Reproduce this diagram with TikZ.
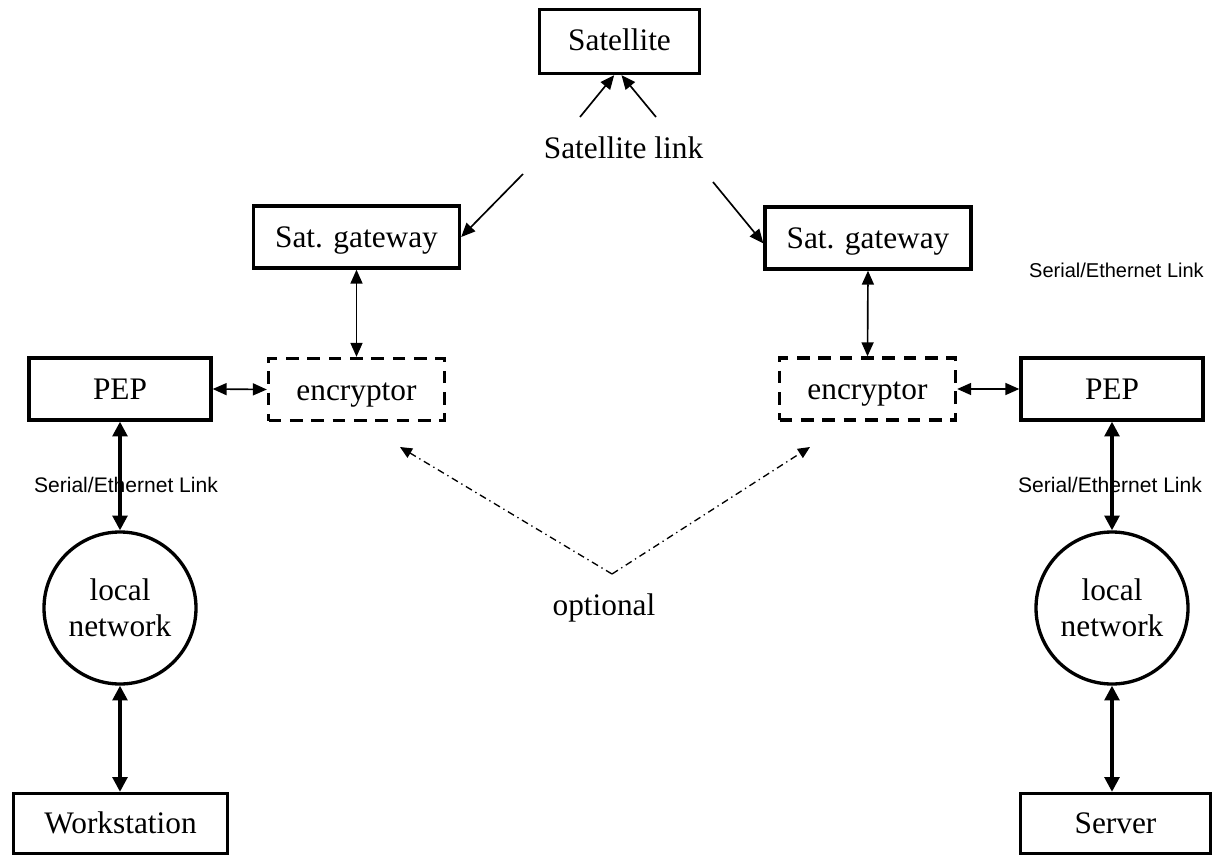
\documentclass[tikz,border=0pt]{standalone}
\usepackage{fontspec}
\setmainfont{Liberation Serif}
\newfontfamily\linkfont{Liberation Sans}
\usetikzlibrary{arrows.meta}
\begin{document}
\begin{tikzpicture}[x=0.75pt,y=-0.75pt,
  txt/.style={font=\fontsize{23.5}{27}\selectfont},
  smalltxt/.style={font=\linkfont\fontsize{15}{18}\selectfont},
  lantxt/.style={font=\linkfont\fontsize{15.8}{18}\selectfont},
  box/.style={txt,draw,line width=2.5pt,rectangle,inner sep=0pt,minimum height=46.5pt,
    text height=15.75pt,text depth=0pt},
  dbox/.style={box,dash pattern=on 9.5pt off 6.5pt},
  net/.style={txt,draw,line width=2.5pt,circle,inner sep=0pt,minimum size=114pt,align=center},
  thinlink/.style={line width=1.25pt,{Triangle[length=10.5pt,width=9pt]}-{Triangle[length=10.5pt,width=9pt]}},
  thinto/.style={line width=1.25pt,-{Triangle[length=10.5pt,width=9pt]}},
  thicklink/.style={line width=2.5pt,{Triangle[length=11pt,width=11pt]}-{Triangle[length=11pt,width=11pt]}},
  optline/.style={line width=1pt,dash pattern=on 5.25pt off 3pt on 1pt off 3pt,-{Triangle[length=9pt,width=8pt]}}
]
\useasboundingbox (0,0) rectangle (1225,857);

% satellite and gateways
\node[box,minimum width=120pt,minimum height=48pt,text height=13.5pt] (sat) at (619.5,41.5) {Satellite};
\node[txt,anchor=base] (satlink) at (623.5,158) {Satellite link};
\node[box,minimum width=154.5pt] (gwL) at (356.5,237) {Sat. gateway};
\node[box,minimum width=154.5pt] (gwR) at (868,238) {Sat. gateway};

% encryptors and PEPs
\node[dbox,minimum width=132pt] (encL) at (356.5,389.5) {encryptor};
\node[dbox,minimum width=132pt] (encR) at (867.5,389) {encryptor};
\node[box,minimum width=136.5pt] (pepL) at (120,389) {PEP};
\node[box,minimum width=136.5pt] (pepR) at (1112,389) {PEP};

% local networks and end hosts
\node[net] (netL) at (120,608) {local\\network};
\node[net] (netR) at (1112,608) {local\\network};
\node[box,minimum width=160.5pt,minimum height=45pt,text height=14.25pt] (ws) at (120.5,823.5) {Workstation};
\node[box,minimum width=142.5pt,minimum height=45pt,text height=14.25pt] (srv) at (1115.5,823.5) {Server};

% link labels
\node[smalltxt,anchor=base] (serTop) at (1116.5,277) {Serial/Ethernet Link};
\node[lantxt,anchor=base] (serL) at (126,492) {Serial/Ethernet Link};
\node[lantxt,anchor=base] (serR) at (1110,492) {Serial/Ethernet Link};
\node[txt,anchor=base] (opt) at (604,615) {optional};

% satellite link arrows
\coordinate (upL) at (580,117);
\coordinate (upR) at (656,117);
\coordinate (downL) at (523,174);
\coordinate (downR) at (713,182);
\draw[thinto] (upL) -- ([xshift=-4pt]sat.south);
\draw[thinto] (upR) -- ([xshift=1.5pt]sat.south);
\draw[thinto] (downL) -- (gwL.east);
\draw[thinto] (downR) -- ([yshift=-4pt]gwR.west);

% gateway / encryptor / PEP links
\draw[thinlink] (gwL.south) -- (encL.north);
\draw[thinlink] (gwR.south) -- (encR.north);
\draw[thinlink] (pepL.east) -- (encL.west);
\draw[thinlink] (encR.east) -- (pepR.west);

% LAN links
\draw[thicklink] (pepL.south) -- (netL.north);
\draw[thicklink] (netL.south) -- (netL.south |- ws.north);
\draw[thicklink] (pepR.south) -- (netR.north);
\draw[thicklink] (netR.south) -- (netR.south |- srv.north);

% optional encryptor pointers
\coordinate (optApex) at (612,574);
\coordinate (optL) at (400,447);
\coordinate (optR) at (810,447);
\draw[optline] (optApex) -- (optL);
\draw[optline] (optApex) -- (optR);
\end{tikzpicture}
\end{document}
